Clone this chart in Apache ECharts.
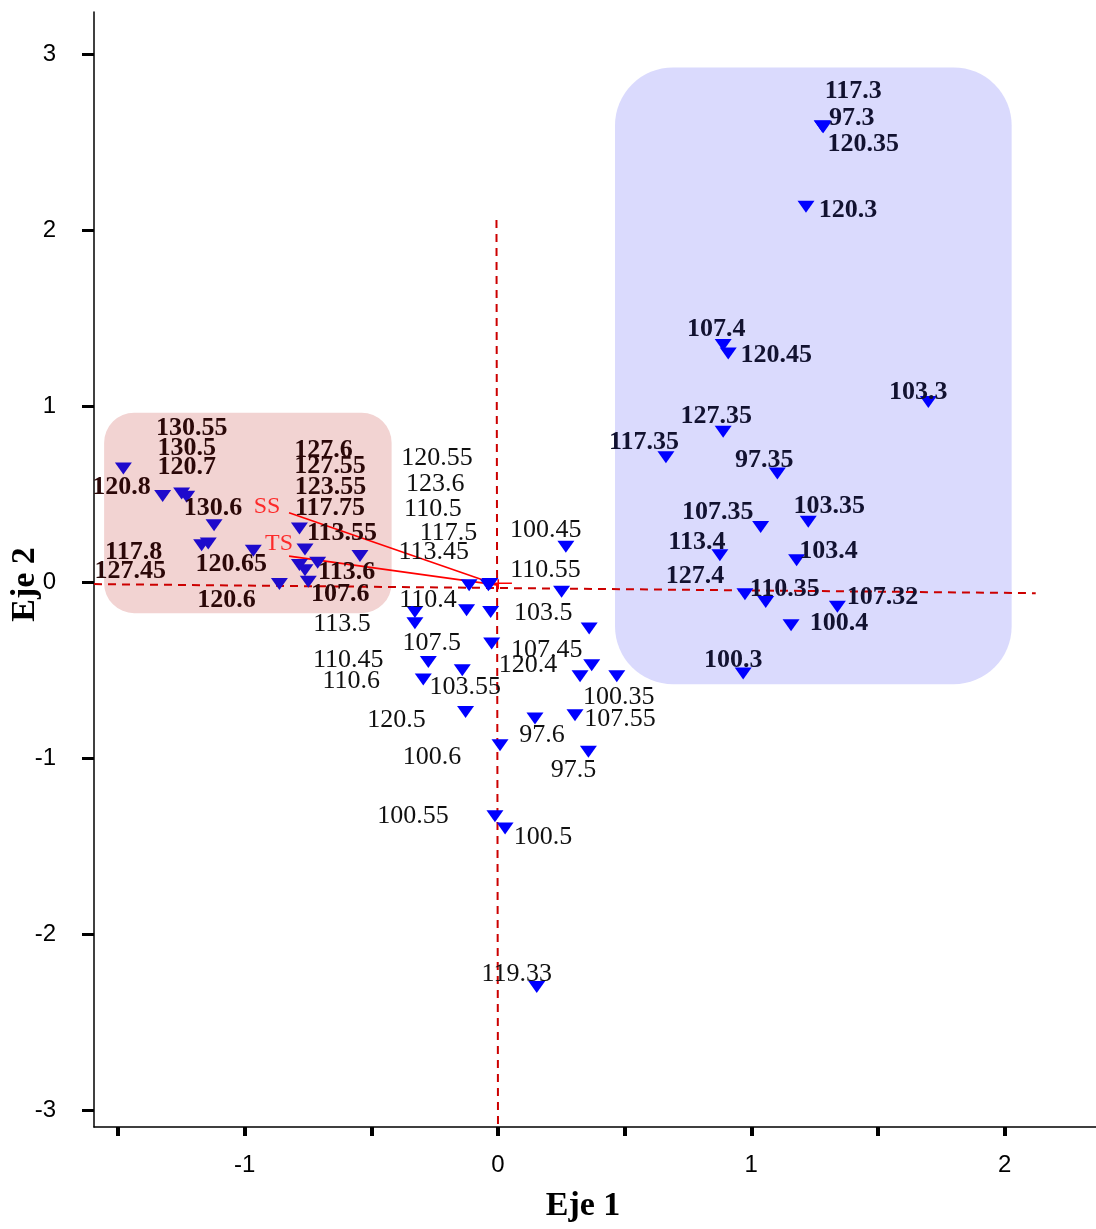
<!DOCTYPE html>
<html>
<head>
<meta charset="utf-8">
<script src="https://cdn.jsdelivr.net/npm/echarts@6/dist/echarts.min.js"></script>
<style>
  html, body { margin: 0; padding: 0; background: #fff; }
  #container { width: 1096px; height: 1229px; }
</style>
</head>
<body>
<div id="container"></div>
<script>
// ---- sitios del grupo rojo (izquierda) ----
var pinkSites = ['120.8','130.55','130.5','120.7','130.6','117.8','127.45','120.65','120.6','127.6','127.55','123.55','117.75','107.6','113.6','113.55'];
var pinkEje1 = [-1.479,-1.324,-1.249,-1.229,-1.121,-1.170,-1.144,-0.966,-0.863,-0.784,-0.762,-0.784,-0.762,-0.749,-0.712,-0.545];
var pinkEje2 = [0.646,0.489,0.504,0.485,0.324,0.210,0.220,0.178,-0.011,0.305,0.186,0.097,0.068,0.002,0.110,0.148];

// ---- sitios centrales ----
var midSites = ['120.55','123.6','110.5','117.5','113.45','100.45','110.55','110.4','113.5','103.5','107.5','110.45','103.55','110.6','107.45','120.4','100.35','120.5','97.6','107.55','97.5','100.6','100.55','100.5','119.33'];
var midEje1 = [-0.114,-0.038,-0.032,-0.124,-0.029,0.268,0.251,-0.328,-0.328,0.360,-0.025,-0.275,-0.141,-0.295,0.370,0.324,0.469,-0.128,0.146,0.304,0.357,0.008,-0.012,0.028,0.153];
var midEje2 = [-0.017,-0.017,-0.011,-0.159,-0.169,0.201,-0.055,-0.169,-0.233,-0.263,-0.348,-0.453,-0.500,-0.553,-0.472,-0.534,-0.534,-0.737,-0.774,-0.756,-0.964,-0.926,-1.330,-1.399,-2.299];

// ---- sitios del grupo azul (derecha) ----
var blueSites = ['117.3','97.3','120.35','120.3','107.4','120.45','103.3','127.35','117.35','97.35','107.35','103.35','113.4','103.4','127.4','110.35','107.32','100.4','100.3'];
var blueEje1 = [1.280,1.282,1.284,1.216,0.889,0.909,1.699,0.889,0.663,1.103,1.037,1.225,0.876,1.179,0.975,1.057,1.340,1.157,0.968];
var blueEje2 = [2.590,2.587,2.584,2.132,1.347,1.299,1.024,0.854,0.709,0.618,0.314,0.343,0.153,0.125,-0.069,-0.112,-0.140,-0.244,-0.519];

// ---- variables (flechas) ----
var varNames = ['SS', 'TS'];
var varEje1 = [-0.825, -0.825];
var varEje2 = [0.394, 0.148];

// ticks
var xTicks = [-1.5, -1, -0.5, 0, 0.5, 1, 1.5, 2];
var xTickLabels = [-1, 0, 1, 2];
var yTicks = [-3, -2, -1, 0, 1, 2, 3];

// ---- colocacion de etiquetas (px respecto al punto) ----
var pinkShift = [[-2,19],[29,-68],[5,-45],[0,-30],[-1,-17],[-68,7],[-78,28],[-22,13],[-53,16],[24,-78],[25,-83],[31,-78],[25,-62],[32,12],[29,9],[-18,-23]];
var midShift = [[-32,-127],[-53,-101],[-57,-75],[-18,-77],[-57,-60],[-20,-17],[-16,-22],[13,-12],[-73,1],[-46,-15],[-60,0],[-80,-2],[3,17],[-72,2],[-45,-15],[-52,-11],[2,21],[-69,8],[7,17],[45,4],[-15,18],[-68,12],[-82,0],[38,9],[-20,-13]];
var blueShift = [[31,-35],[29,-8],[40,17],[42,3],[-7,-16],[48,2],[-10,-10],[-7,-16],[-22,-15],[-13,-13],[-43,-15],[21,-16],[-23,-13],[32,-9],[-50,-18],[19,-13],[45,-10],[48,-2],[-10,-13]];
var varShift = [[-22,-6],[-10,-12]];

// zonas sombreadas (unidades de los ejes) y lineas de referencia
var zones = [
  { lo: [-1.555, -0.176], hi: [-0.420, 0.962], fill: '#F2D3D2', r: 30 },
  { lo: [0.462, -0.580], hi: [2.028, 2.924], fill: '#DADAFD', r: 58 }
];
var vLine = [[-0.006, 2.057], [0, -3.095]];
var hLine = [[-1.595, -0.011], [2.123, -0.0625]];
var origin = [0.001, -0.017];

var tri = 'path://M0,0L18,0L9,12Z';
var serif = 'Liberation Serif';

function siteData(names, xs, ys, shifts) {
  return names.map(function (n, i) {
    return { name: n, value: [xs[i], ys[i]], label: { offset: shifts[i] } };
  });
}

function siteSeries(names, xs, ys, shifts, pointColor, textColor, weight) {
  return {
    type: 'scatter',
    symbol: tri,
    symbolSize: [17, 12],
    itemStyle: { color: pointColor, opacity: 1 },
    label: {
      show: true,
      position: 'inside',
      formatter: '{b}',
      fontFamily: serif,
      fontSize: 26,
      fontWeight: weight,
      color: textColor
    },
    emphasis: { disabled: true },
    z: 5,
    data: siteData(names, xs, ys, shifts)
  };
}

var dom = document.getElementById('container');
var myChart = echarts.init(dom, null, { renderer: 'canvas' });

var option = {
  animation: false,
  backgroundColor: '#ffffff',
  grid: { left: 94, right: 0, top: 12, bottom: 102, containLabel: false, outerBoundsMode: 'none' },
  xAxis: {
    type: 'value',
    min: -1.595,
    max: 2.361,
    name: 'Eje 1',
    nameLocation: 'middle',
    nameGap: 62,
    nameMoveOverlap: false,
    nameTextStyle: { fontFamily: serif, fontWeight: 'bold', fontSize: 34, color: '#000', padding: [0, 24, 0, 0] },
    axisLine: { onZero: false, lineStyle: { color: '#000', width: 1.5 } },
    axisTick: { show: true, customValues: xTicks, length: 9, lineStyle: { color: '#000', width: 4 } },
    axisLabel: { customValues: xTickLabels, margin: 26, fontFamily: 'Liberation Sans', fontSize: 24, color: '#000' },
    splitLine: { show: false }
  },
  yAxis: {
    type: 'value',
    min: -3.095,
    max: 3.239,
    name: 'Eje 2',
    nameLocation: 'middle',
    nameGap: 52,
    nameRotate: 90,
    nameMoveOverlap: false,
    nameTextStyle: { fontFamily: serif, fontWeight: 'bold', fontSize: 34, color: '#000', padding: [0, 30, 0, 0] },
    axisLine: { onZero: false, lineStyle: { color: '#000', width: 1.5 } },
    axisTick: { show: true, customValues: yTicks, length: 12, lineStyle: { color: '#000', width: 3 } },
    axisLabel: { customValues: yTicks, margin: 38, fontFamily: 'Liberation Sans', fontSize: 24, color: '#000' },
    splitLine: { show: false }
  },
  series: [
    {
      type: 'custom',
      z: 1,
      silent: true,
      clip: false,
      encode: { x: [0, 2], y: [1, 3] },
      data: zones.map(function (zn) { return [zn.lo[0], zn.lo[1], zn.hi[0], zn.hi[1]]; }),
      renderItem: function (params, api) {
        var zn = zones[params.dataIndex];
        var a = api.coord([api.value(0), api.value(3)]);
        var b = api.coord([api.value(2), api.value(1)]);
        return {
          type: 'rect',
          shape: { x: a[0], y: a[1], width: b[0] - a[0], height: b[1] - a[1], r: zn.r },
          style: { fill: zn.fill }
        };
      }
    },
    {
      type: 'line', z: 2, silent: true, symbol: 'none', data: vLine,
      lineStyle: { color: '#CC0000', width: 2, type: [8, 6] }
    },
    {
      type: 'line', z: 2, silent: true, symbol: 'none', data: hLine,
      lineStyle: { color: '#CC0000', width: 2, type: [8, 6] }
    },
    // flechas SS y TS
    {
      type: 'line', z: 3, silent: true, symbol: 'none',
      data: [[varEje1[0], varEje2[0]], origin],
      lineStyle: { color: '#FF0000', width: 1.6 }
    },
    {
      type: 'line', z: 3, silent: true, symbol: 'none',
      data: [[varEje1[1], varEje2[1]], origin],
      lineStyle: { color: '#FF0000', width: 1.6 }
    },
    {
      type: 'line', z: 3, silent: true, symbol: 'none',
      data: [[-0.043, -0.006], [0.055, -0.006]],
      lineStyle: { color: '#FF0000', width: 1.6 }
    },
    {
      type: 'line', z: 3, silent: true, symbol: 'none',
      data: [[0.001, 0.017], [0.001, -0.04]],
      lineStyle: { color: '#FF0000', width: 1.6 }
    },
    {
      type: 'scatter',
      z: 6,
      symbolSize: 1,
      itemStyle: { color: 'rgba(0,0,0,0)' },
      label: { show: true, position: 'inside', formatter: '{b}', fontFamily: serif, fontSize: 24, color: '#FF0000' },
      emphasis: { disabled: true },
      data: siteData(varNames, varEje1, varEje2, varShift)
    },
    siteSeries(pinkSites, pinkEje1, pinkEje2, pinkShift, '#1E0ACC', '#2B0808', 'bold'),
    siteSeries(midSites, midEje1, midEje2, midShift, '#0000FF', '#111111', 'normal'),
    siteSeries(blueSites, blueEje1, blueEje2, blueShift, '#0000FF', '#121230', 'bold')
  ]
};

myChart.setOption(option);
window.addEventListener('resize', myChart.resize);
</script>
</body>
</html>
